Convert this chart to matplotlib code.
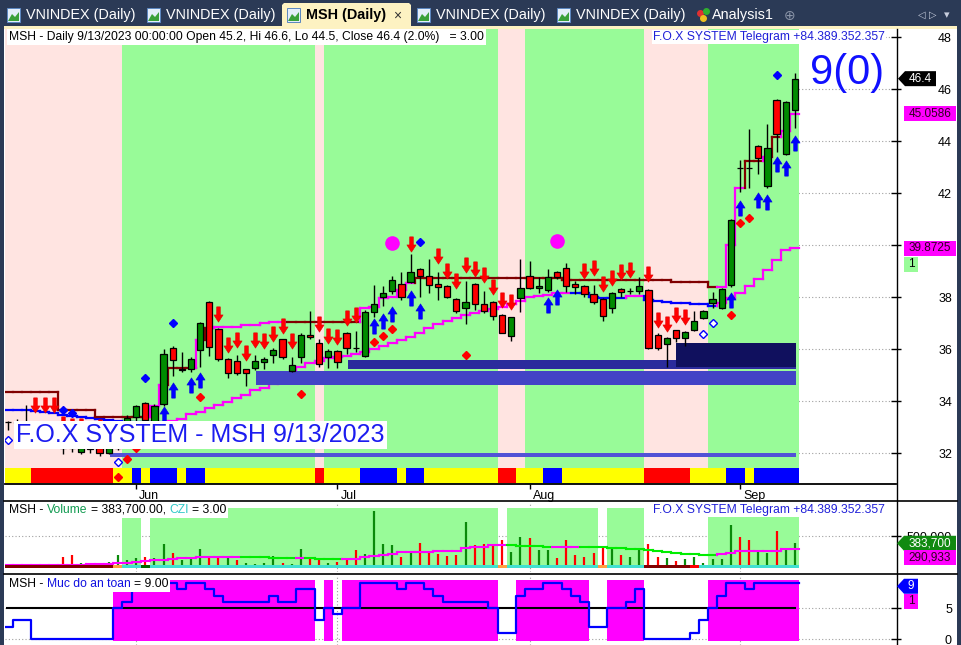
import matplotlib
matplotlib.use("Agg")
import matplotlib.pyplot as plt
import matplotlib.transforms as mtransforms
from matplotlib.patches import Rectangle, Polygon
from matplotlib.lines import Line2D
from matplotlib.path import Path
from matplotlib.collections import LineCollection

plt.rcParams['font.family'] = ['Liberation Sans', 'DejaVu Sans']

# ---------------- data (bar index 0 = mid May 2023, last bar = 9/13/2023) ----------------
months = ['Jun', 'Jul', 'Aug', 'Sep']
month_bar = [14, 36, 57, 80]

opens = [33.2, 33.2, 33.2, 33.1, 32.9, 32.7, 32.3, 32.2, 32.05, 32.2,
         32.2, 32.0, 32.2, 32.6, 33.38, 33.92, 33.2, 33.88, 36.04, 35.25,
         35.23, 35.96, 37.8, 36.77, 35.6, 35.54, 35.23, 35.27, 35.5, 35.77,
         36.38, 35.15, 35.69, 36.54, 36.23, 35.69, 35.92, 36.62, 36.04, 35.73,
         37.42, 38.0, 38.23, 38.5, 38.58, 39.08, 38.8, 38.5, 38.42, 37.92,
         37.58, 38.5, 37.73, 37.8, 37.3, 36.5, 37.96, 38.8, 38.35, 38.27,
         38.96, 39.12, 38.5, 38.42, 38.12, 37.92, 37.58, 38.3, 38.23, 38.23,
         38.27, 36.54, 36.2, 36.73, 36.42, 36.73, 37.2, 37.77, 37.58, 38.46,
         42.96, 42.96, 43.8, 42.27, 45.58, 43.5, 45.2]
highs = [33.25, 33.3, 33.85, 33.2, 33.0, 32.8, 32.4, 32.35, 32.35, 32.3,
         32.3, 32.3, 32.5, 33.46, 33.85, 33.96, 33.9, 36.0, 36.1, 35.88,
         35.7, 37.05, 37.85, 36.8, 35.65, 35.77, 35.25, 35.77, 35.7, 36.04,
         36.4, 35.69, 36.6, 37.46, 36.38, 36.0, 35.95, 36.65, 36.7, 37.5,
         38.46, 38.42, 38.8, 38.96, 39.65, 39.1, 39.46, 38.96, 38.45, 37.95,
         38.62, 38.55, 38.23, 37.85, 37.35, 37.25, 39.46, 39.38, 38.77, 39.08,
         39.0, 39.3, 38.6, 38.45, 38.46, 37.95, 38.2, 38.35, 38.35, 38.77,
         38.3, 36.6, 36.45, 36.75, 36.7, 37.46, 37.5, 38.2, 38.35, 41.0,
         43.27, 44.46, 43.85, 44.65, 45.6, 45.55, 46.6]
lows = [32.9, 33.0, 33.0, 32.8, 32.6, 32.4, 31.95, 32.05, 31.95, 32.0,
        31.9, 31.95, 32.1, 32.5, 33.2, 33.2, 33.1, 33.8, 34.96, 35.1,
        35.1, 35.3, 35.73, 35.55, 34.9, 35.0, 34.58, 35.2, 35.23, 35.46,
        35.6, 35.1, 35.46, 36.4, 35.3, 35.27, 35.27, 35.8, 35.9, 35.7,
        37.23, 37.65, 38.1, 37.9, 38.54, 38.0, 38.15, 37.9, 37.95, 37.4,
        36.96, 37.5, 37.4, 37.1, 36.6, 36.3, 37.42, 38.3, 38.15, 38.2,
        38.7, 38.2, 38.1, 38.0, 37.75, 37.08, 37.4, 38.0, 38.1, 38.12,
        36.0, 35.96, 35.3, 36.27, 36.12, 36.7, 37.15, 37.58, 37.55, 38.4,
        42.04, 42.19, 42.73, 42.2, 43.58, 43.45, 44.5]
closes = [33.2, 33.15, 33.2, 32.9, 32.7, 32.5, 32.2, 32.2, 32.2, 32.15,
          32.0, 32.2, 32.4, 33.35, 33.8, 33.27, 33.8, 35.8, 35.58, 35.2,
          35.62, 37.0, 36.07, 35.6, 35.08, 35.08, 35.08, 35.54, 35.62, 35.96,
          35.69, 35.38, 36.54, 36.46, 35.42, 35.92, 35.5, 36.04, 36.04, 37.42,
          37.73, 38.15, 38.65, 38.0, 38.96, 38.8, 38.46, 38.38, 38.0, 37.46,
          37.8, 37.73, 37.46, 37.27, 36.62, 37.23, 38.35, 38.35, 38.42, 38.77,
          38.77, 38.42, 38.38, 38.12, 37.8, 37.27, 38.15, 38.2, 38.23, 38.42,
          36.04, 36.04, 36.42, 36.42, 36.65, 37.08, 37.46, 37.92, 38.3, 40.96,
          42.96, 42.96, 43.35, 43.73, 44.27, 45.5, 46.4]

# fast trailing stop (b = brown / above price, m = magenta / below price)
stop_fast = [34.35] * 6 + [33.65] * 4 + [33.38] * 6 + [33.8, 34.6] + [35.27] * 3 + \
            [36.35, 36.8, 36.85, 36.85, 36.85, 36.92, 36.92, 37.0, 37.04, 37.04] + [37.05] * 8 + \
            [37.58, 37.62, 37.96, 38.0, 38.27, 38.54] + [38.73] * 16 + [38.65] * 12 + [38.58] * 4 + \
            [38.38, 38.38, 40.0, 42.2, 43.25, 43.25, 43.4, 44.15, 44.4, 45.0586]
stop_fast_col = 'b' * 16 + 'mm' + 'bbb' + 'mb' + 'm' * 8 + 'b' * 8 + 'm' * 6 + 'b' * 33 + 'mmm' + 'bb' + 'mbmm'

# slow trailing line (b = blue, m = magenta)
stop_slow = [33.65, 33.65, 33.65, 33.62, 33.58, 33.54, 33.46, 33.42, 33.38, 33.35,
             33.3, 33.27, 33.23, 33.2, 33.2, 33.2, 33.2, 33.2, 33.23, 33.3,
             33.5, 33.58, 33.73, 33.85, 33.96, 34.1, 34.23, 34.42, 34.5, 34.65,
             34.8, 35.0, 35.3, 35.46, 35.54, 35.65, 35.7, 35.73, 35.8, 35.88,
             36.0, 36.12, 36.23, 36.35, 36.46, 36.62, 36.8, 36.96, 37.08, 37.2,
             37.3, 37.38, 37.46, 37.54, 37.62, 37.73, 37.85, 38.0, 38.04, 38.08,
             38.15, 38.15, 38.15, 38.15, 38.0, 37.96, 37.96, 37.96, 38.04, 38.04,
             37.88, 37.85, 37.81, 37.77, 37.77, 37.73, 37.73, 37.65, 37.77, 37.96,
             38.15, 38.42, 38.7, 39.04, 39.42, 39.8, 39.8725]
stop_slow_col = 'b' * 18 + 'm' * 44 + 'b' * 6 + 'm' * 2 + 'b' * 8 + 'm' * 9

# background state per bar (p = pink, g = green) and signal strip (Y/R/B)
trend_bg = 'p' * 13 + 'g' * 21 + 'p' + 'g' * 19 + 'p' * 3 + 'g' * 13 + 'p' * 7 + 'g' * 10
signal_strip = ('YYY' + 'R' * 9 + 'YY' + 'B' + 'Y' + 'BBB' + 'Y' + 'BB' + 'Y' * 12 + 'R' + 'YYYY' +
                'BBBB' + 'Y' + 'BB' + 'Y' * 8 + 'RR' + 'YYY' + 'BB' + 'Y' * 9 + 'R' * 5 + 'YYYY' +
                'BB' + 'Y' + 'BBBBB')

# support zones: (first bar, last bar, low, high)
zones = [(27.1, 86.1, 34.62, 35.15),
         (37.2, 86.1, 35.23, 35.56),
         (73.0, 86.1, 35.3, 36.23),
         (11.1, 86.1, 31.85, 32.0)]

red_arrows = [(3, 33.85), (4, 33.85), (5, 33.85), (6, 33.1), (7, 33.05), (8, 33.05), (10, 33.0),
              (23, 37.33), (24, 36.17), (25, 36.35), (26, 35.85), (27, 36.35), (28, 36.3),
              (29, 36.58), (30, 36.9), (31, 36.3), (34, 36.96), (35, 36.5), (36, 36.46),
              (37, 37.2), (38, 37.3), (44, 40.05), (47, 39.58), (48, 39.0), (49, 38.6),
              (50, 39.23), (51, 39.08), (52, 38.85), (53, 38.4), (54, 37.9), (55, 37.8),
              (63, 38.99), (64, 39.1), (65, 38.5), (66, 38.75), (67, 38.96), (68, 39.04),
              (70, 38.9), (71, 37.1), (72, 36.98), (73, 37.3), (74, 37.23)]
blue_arrows = [(17, 33.5), (18, 34.42), (20, 34.6), (21, 34.8), (40, 36.87), (41, 37.08),
               (42, 37.35), (44, 37.96), (45, 37.46), (59, 37.7), (60, 38.0), (79, 37.9),
               (80, 41.44), (82, 41.73), (83, 41.65), (84, 43.1), (85, 42.96), (86, 43.94)]
blue_dots = [(6, 33.65), (7, 33.54), (15, 34.88), (18, 37.0), (45, 40.12), (84, 46.54)]
red_dots = [(12, 31.08), (13, 31.77), (14, 32.19), (21, 34.15), (32, 34.27), (40, 36.27),
            (41, 36.5), (42, 36.77), (50, 35.77), (79, 37.31), (80, 40.85), (81, 41.04)]
open_dots = [(0, 32.5), (12, 31.65), (76, 36.58), (77, 37.0)]
big_dots = [(42, 40.08), (60, 40.15)]

# volume (thousand shares), direction, 20-bar average
volumes = [35, 40, 45, 30, 40, 35, 170, 197, 64, 64,
           74, 90, 197, 117, 154, 170, 144, 367, 223, 117,
           170, 293, 144, 144, 154, 117, 64, 53, 64, 181,
           64, 53, 287, 144, 144, 64, 90, 128, 277, 207,
           899, 367, 356, 170, 261, 383, 223, 213, 181, 197,
           718, 356, 367, 367, 436, 239, 484, 463, 277, 277,
           154, 436, 197, 170, 223, 330, 330, 197, 170, 314,
           367, 170, 154, 101, 133, 170, 64, 133, 133, 676,
           484, 436, 261, 223, 580, 287, 383.7]
vol_dir = ('grgrrrrrgr' 'rggggrggrg' 'ggrrgrgggg' 'rggrrgrrrg' 'gggrgrrrrr'
           'grrrrggrgg' 'rrrrrrgrgg' 'rrgrgggggg' 'rrggrgg')
vol_ma = [37, 37, 37, 37, 37, 37, 40, 42, 42, 45,
          48, 55, 64, 75, 90, 101, 110, 117, 133, 144,
          150, 160, 165, 168, 170, 170, 168, 165, 160, 155,
          152, 150, 150, 146, 140, 135, 130, 130, 140, 165,
          185, 197, 215, 239, 245, 248, 250, 258, 262, 266,
          314, 322, 330, 356, 356, 350, 345, 340, 333, 330,
          330, 330, 330, 328, 322, 320, 314, 305, 295, 287,
          278, 262, 245, 235, 220, 210, 200, 197, 207, 230,
          255, 258, 260, 261, 262, 287, 290.933]
vol_bg = '.' * 13 + 'gg' + '.' + 'g' * 38 + '.' + 'g' * 10 + '.' + 'g' * 4 + '.' * 7 + 'g' * 10
czi_strip = 'm' * 12 + 'o' + 'cc' + 'd' + 'c' * 38 + 'o' + 'c' * 10 + 'o' + 'c' * 4 + 'm' * 5 + 'r' + 'c' * 11

# "Muc do an toan" (safety level 0..9)
safety = [2, 3, 3, 0, 0, 0, 0, 0, 0, 0,
          0, 0, 5, 6, 8, 8, 9, 9, 9, 8,
          9, 9, 8, 7, 6, 6, 6, 6, 6, 7,
          6, 6, 8, 8, 3, 5, 4, 5, 5, 9,
          9, 9, 9, 8, 9, 9, 8, 7, 6, 6,
          6, 6, 6, 5, 1, 1, 7, 8, 8, 9,
          9, 8, 7, 6, 2, 2, 5, 5, 6, 8,
          0, 0, 0, 0, 0, 1, 3, 5, 7, 9,
          9, 8, 9, 9, 9, 9, 9]

# ---------------- styles ----------------
W, H = 961, 645
NAVY = '#2b3a56'
PINK, LGREEN = '#ffe4e1', '#98fb98'
STRIP = {'Y': '#ffff00', 'R': '#ff0000', 'B': '#0000ff'}
ZONE_COLS = ['#4343c6', '#2b2b9c', '#10105e', '#5252d6']
CZI = {'m': '#800000', 'o': '#ffa040', 'c': '#40e0d0', 'd': '#006400', 'r': '#ff0000'}

fig = plt.figure(figsize=(W / 100, H / 100), dpi=100)
fig.patch.set_facecolor(NAVY)
ident = mtransforms.IdentityTransform()


def rect(x0, y0, x1, y1, z=-1, **kw):
    fig.add_artist(Rectangle((x0, H - y1), x1 - x0, y1 - y0, transform=ident, zorder=z, **kw))


def hline(x0, x1, y, **kw):
    fig.add_artist(Line2D([x0, x1], [H - y, H - y], transform=ident, zorder=2, **kw))


def vline(x, y0, y1, **kw):
    fig.add_artist(Line2D([x, x], [H - y0, H - y1], transform=ident, zorder=2, **kw))


def put(x, y, s, z=3, **kw):
    return fig.text(x, H - y, s, transform=ident, zorder=z, **kw)


def axes_px(x0, y0, x1, y1):
    a = fig.add_axes([x0 / W, 1 - y1 / H, (x1 - x0) / W, (y1 - y0) / H])
    a.patch.set_alpha(0)
    for s in a.spines.values():
        s.set_visible(False)
    a.set_xlim(-0.33, 97.05)
    a.set_axisbelow(True)
    return a


def runs(codes):
    out, start = [], 0
    for i in range(1, len(codes) + 1):
        if i == len(codes) or codes[i] != codes[start]:
            out.append((start, i - 1, codes[start]))
            start = i
    return out


def step_lines(vals, cols, palette, lw=1.6):
    segs, cs = [], []
    for i, v in enumerate(vals):
        segs.append([(i - 0.5, v), (i + 0.5, v)])
        cs.append(palette[cols[i]])
        if i + 1 < len(vals) and vals[i + 1] != v:
            segs.append([(i + 0.5, v), (i + 0.5, vals[i + 1])])
            cs.append(palette[cols[i + 1]])
    return LineCollection(segs, colors=cs, linewidths=lw, capstyle='projecting', zorder=2.2)


def right_axis(a, ticks, labels):
    a.yaxis.tick_right()
    a.set_yticks(ticks)
    a.set_yticklabels(labels)
    a.tick_params(axis='y', direction='inout', length=7, width=1, pad=36.8, labelsize=9)
    for t in a.get_yticklabels():
        t.set_horizontalalignment('right')
    a.grid(True, axis='y', linestyle=(0, (1, 2)), color='#a0a0a0', lw=0.8)


def tag(a, value, text, fc, tc, x0, x1, arrow=False, shift=0.0):
    yd = a.transData.transform((0, value))[1] - shift
    h = 15
    if arrow:
        verts = [(x0, yd), (x0 + 7, yd + h / 2), (x1, yd + h / 2), (x1, yd - h / 2), (x0 + 7, yd - h / 2)]
    else:
        verts = [(x0, yd + h / 2), (x1, yd + h / 2), (x1, yd - h / 2), (x0, yd - h / 2)]
    fig.add_artist(Polygon(verts, closed=True, fc=fc, ec='none', transform=ident, zorder=4))
    tx = (x0 + (7 if arrow else 0) + x1) / 2
    fig.text(tx, yd, text, transform=ident, ha='center', va='center', color=tc, fontsize=8.5, zorder=5)
    return yd


def header(a, x, y, parts, size=8.7, gap=3.4):
    # coloured pieces laid out one after the other; a leading space becomes a pixel gap
    prev = None
    for s, c in parts:
        kw = dict(color=c, fontsize=size, va='center', ha='left', zorder=6,
                  bbox=dict(fc='white', ec='none', pad=1.4), annotation_clip=False)
        if prev is None:
            prev = a.annotate(s.strip(), xy=(x, H - y), xycoords=ident, **kw)
        else:
            dx = gap if s.startswith(' ') else 0
            prev = a.annotate(s.strip(), xy=(1, 0.5), xycoords=prev, xytext=(dx, 0),
                              textcoords='offset pixels', **kw)


# ---------------- frame, tabs ----------------
rect(4, 28, 957, 645, z=-2, fc='white', ec='none')
rect(4, 26, 957, 29, z=-1, fc='#fdf2c2', ec='none')
fig.add_artist(Polygon([(282, H - 28), (282, H - 5), (284, H - 3), (409, H - 3), (411, H - 5), (411, H - 28)],
                       closed=True, fc='#fdf2c2', ec='none', transform=ident, zorder=-1))

tabs = [('VNINDEX (Daily)', 7), ('VNINDEX (Daily)', 147), ('MSH (Daily)', 287),
        ('VNINDEX (Daily)', 417), ('VNINDEX (Daily)', 557)]
for name, ix in tabs:
    rect(ix, 8, ix + 13, 22, z=1, fc='#e4eefa', ec='#5a86c0', lw=0.7)
    fig.add_artist(Polygon([(ix + 1, H - 21), (ix + 5, H - 14), (ix + 8, H - 17), (ix + 12, H - 12), (ix + 12, H - 21)],
                           closed=True, fc='#3aa03a', ec='none', transform=ident, zorder=1.5))
    active = name.startswith('MSH')
    put(ix + 19, 15.5, name, color='black' if active else 'white', fontsize=10.4,
        fontweight='bold' if active else 'normal', va='center')
put(397, 15.5, '\u00d7', color='#333333', fontsize=10, va='center', ha='center')
for cx, cy, cc in [(700, 13, '#e03030'), (706, 11, '#30b030'), (703, 18, '#f0c020')]:
    fig.add_artist(Line2D([cx], [H - cy], marker='o', ms=4, color=cc, transform=ident, zorder=2))
put(712, 15.5, 'Analysis1', color='white', fontsize=10.4, va='center')
put(790, 15.5, '\u2295', color='#8a94a8', fontsize=10, va='center', ha='center')
put(922, 15, '\u25c1', color='#c8cede', fontsize=7, va='center', ha='center')
put(933, 15, '\u25b7', color='#c8cede', fontsize=7, va='center', ha='center')
put(947, 15, '\u25be', color='#c8cede', fontsize=8, va='center', ha='center')

# ---------------- price panel ----------------
ax = axes_px(5, 29, 896, 484)
ax.set_ylim(30.81, 48.31)
x = list(range(len(closes)))

for s, e, c in runs(trend_bg):
    ax.axvspan(s - 0.5, e + 0.5, color=PINK if c == 'p' else LGREEN, lw=0, zorder=0.8)

ax.bar(x, 31.42 - 30.85, bottom=30.85, width=1.0, color=[STRIP[c] for c in signal_strip],
       lw=0, zorder=1.5, antialiased=False)

ax.add_collection(step_lines(stop_slow, stop_slow_col, {'b': '#0000ff', 'm': '#ff00ff'}))
ax.add_collection(step_lines(stop_fast, stop_fast_col, {'b': '#800000', 'm': '#ff00ff'}))

for (z0, z1, lo, hi), col in zip(zones, ZONE_COLS):
    ax.add_patch(Rectangle((z0, lo), z1 - z0, hi - lo, fc=col, lw=0, zorder=2.5))

body_lo = [min(o, c) for o, c in zip(opens, closes)]
body_h = [abs(c - o) for o, c in zip(opens, closes)]
body_col = ['#008c00' if c > o else ('#ff0000' if c < o else 'black') for o, c in zip(opens, closes)]
ax.vlines(x, lows, highs, color='black', lw=1.0, zorder=3)
ax.bar(x, body_h, bottom=body_lo, width=0.68, color=body_col, edgecolor='black', lw=0.9, zorder=3.2)

arrow_v = [(-0.12, 0.5), (0.12, 0.5), (0.12, -0.03), (0.3, -0.03), (0.0, -0.5),
           (-0.3, -0.03), (-0.12, -0.03), (-0.12, 0.5)]
down_arrow = Path(arrow_v, closed=True)
up_arrow = Path([(vx, -vy) for vx, vy in arrow_v], closed=True)


def scatter(pts, **kw):
    ax.plot([p[0] for p in pts], [p[1] for p in pts], ls='none', zorder=4, **kw)


scatter(red_arrows, marker=down_arrow, ms=11, color='#ff0000', mec='#e00000', mew=0.4)
scatter(blue_arrows, marker=up_arrow, ms=11, color='#0000ff', mec='#0000e0', mew=0.4)
scatter(blue_dots, marker='D', ms=4, color='#0000ff', mec='#0000ff')
scatter(red_dots, marker='D', ms=4, color='#ff0000', mec='#ff0000')
scatter(open_dots, marker='D', ms=4, mfc='white', mec='#0000ff', mew=1)
scatter(big_dots, marker='o', ms=9.5, color='#ff00ff', mec='#ff00ff')

right_axis(ax, list(range(32, 49, 2)), [str(v) for v in range(32, 49, 2)])
ax.set_xticks(month_bar)
ax.set_xticklabels(months, ha='left', fontsize=9)
ax.tick_params(axis='x', direction='out', length=3.5, width=1, pad=1)
shift = mtransforms.ScaledTranslation(3 / 100, 0, fig.dpi_scale_trans)
for t in ax.get_xticklabels():
    t.set_transform(t.get_transform() + shift)
ax.grid(True, axis='x', linestyle=(0, (1, 2)), color='#a0a0a0', lw=0.8)
ax.spines['bottom'].set_visible(True)
ax.spines['bottom'].set_linewidth(1.3)

n = len(closes) - 1
chg = (closes[n] / closes[n - 1] - 1) * 100
header(ax, 9, 37, [(f'MSH - Daily 9/13/2023 00:00:00 Open {opens[n]}, Hi {highs[n]}, Lo {lows[n]}, '
                    f'Close {closes[n]} ({chg:.1f}%)   = 3.00', 'black')])
put(885, 37, 'F.O.X SYSTEM Telegram +84.389.352.357', color='#2020d8', fontsize=8.7, ha='right',
    va='center', bbox=dict(fc='white', ec='none', pad=1.0))
put(847, 73, '9(0)', color='#1010ff', fontsize=30, ha='center', va='center')
put(16, 435, 'F.O.X SYSTEM - MSH 9/13/2023', color='#1c1cf0', fontsize=18, va='center',
    bbox=dict(fc='white', ec='none', pad=1.5))

tag(ax, closes[n], f'{closes[n]}', 'black', 'white', 898, 936, arrow=True)
tag(ax, stop_fast[n], f'{stop_fast[n]}', '#ff00ff', '#300020', 904, 956)
tag(ax, stop_slow[n], f'{stop_slow[n]}', '#ff00ff', '#300020', 904, 956)
tag(ax, stop_slow[n], '1', LGREEN, 'black', 904, 918, shift=16)

# ---------------- volume panel ----------------
vax = axes_px(5, 502, 896, 572)
vax.set_ylim(-75, 1043)
for s, e, c in runs(vol_bg):
    if c == 'g':
        vax.add_patch(Rectangle((s - 0.5, -11), e - s + 1, 958, fc=LGREEN, lw=0, zorder=0.8))
vax.vlines(x, 0, volumes, colors=['#0a8a0a' if d == 'g' else '#ff0000' for d in vol_dir], lw=1.6, zorder=2)
ma_col = 'm' + ''.join('m' if vol_ma[i] >= vol_ma[i - 1] else 'g' for i in range(1, len(vol_ma)))
vax.add_collection(step_lines(vol_ma, ma_col, {'m': '#ff00ff', 'g': '#00ee00'}, lw=1.5))
vax.bar(x, 47, bottom=-12, width=1.0, color=[CZI[c] for c in czi_strip], lw=0, zorder=3, antialiased=False)
right_axis(vax, [500], ['500,000'])
vax.set_xticks(month_bar)
vax.set_xticklabels([])
vax.tick_params(axis='x', length=0)
vax.grid(True, axis='x', linestyle=(0, (1, 2)), color='#a0a0a0', lw=0.8)
header(vax, 9, 510, [('MSH -', 'black'), (' Volume', '#109a50'), (f' = {volumes[n] * 1000:,.2f},', 'black'),
                     (' CZI', '#30c8c8'), (' = 3.00', 'black')])
put(885, 510, 'F.O.X SYSTEM Telegram +84.389.352.357', color='#2020d8', fontsize=8.7, ha='right',
    va='center', bbox=dict(fc='white', ec='none', pad=1.0))
tag(vax, volumes[n], f'{volumes[n] * 1000:,.0f}', '#108a10', 'white', 897, 956, arrow=True)
tag(vax, volumes[n], f'{vol_ma[n] * 1000:,.0f}', '#ff00ff', '#300020', 904, 956, shift=14)

# ---------------- safety level panel ----------------
sax = axes_px(5, 575, 896, 645)
sax.set_ylim(-0.95, 10.33)
for s, e, c in runs(['h' if v >= 5 else 'l' for v in safety]):
    if c == 'h':
        sax.add_patch(Rectangle((s - 0.5, -0.3), e - s + 1, 9.8, fc='#ff00ff', lw=0, zorder=0.8))
sax.hlines(5, -0.2, 86.1, color='black', lw=1.5, zorder=2)
sax.step([-0.2] + x + [86.5], [safety[0]] + safety + [safety[n]], where='mid', color='#0000ff', lw=1.6, zorder=3)
right_axis(sax, [0, 5], ['0', '5'])
sax.set_xticks(month_bar)
sax.set_xticklabels([])
sax.tick_params(axis='x', length=0)
sax.grid(True, axis='x', linestyle=(0, (1, 2)), color='#a0a0a0', lw=0.8)
header(sax, 9, 584, [('MSH -', 'black'), (' Muc do an toan', '#1010e0'), (f' = {safety[n]:.2f}', 'black')])
tag(sax, safety[n], f'{safety[n]}', '#0000ff', 'white', 897, 918, arrow=True, shift=3)
tag(sax, safety[n], '1', '#ff00ff', '#300020', 904, 918, shift=18)

# ---------------- separators ----------------
hline(4, 957, 500.5, color='black', lw=1.2)
hline(4, 957, 573.5, color='black', lw=1.2)
vline(896.5, 29, 645, color='black', lw=1.0)

fig.savefig('out.png', dpi=100, facecolor=fig.get_facecolor())
